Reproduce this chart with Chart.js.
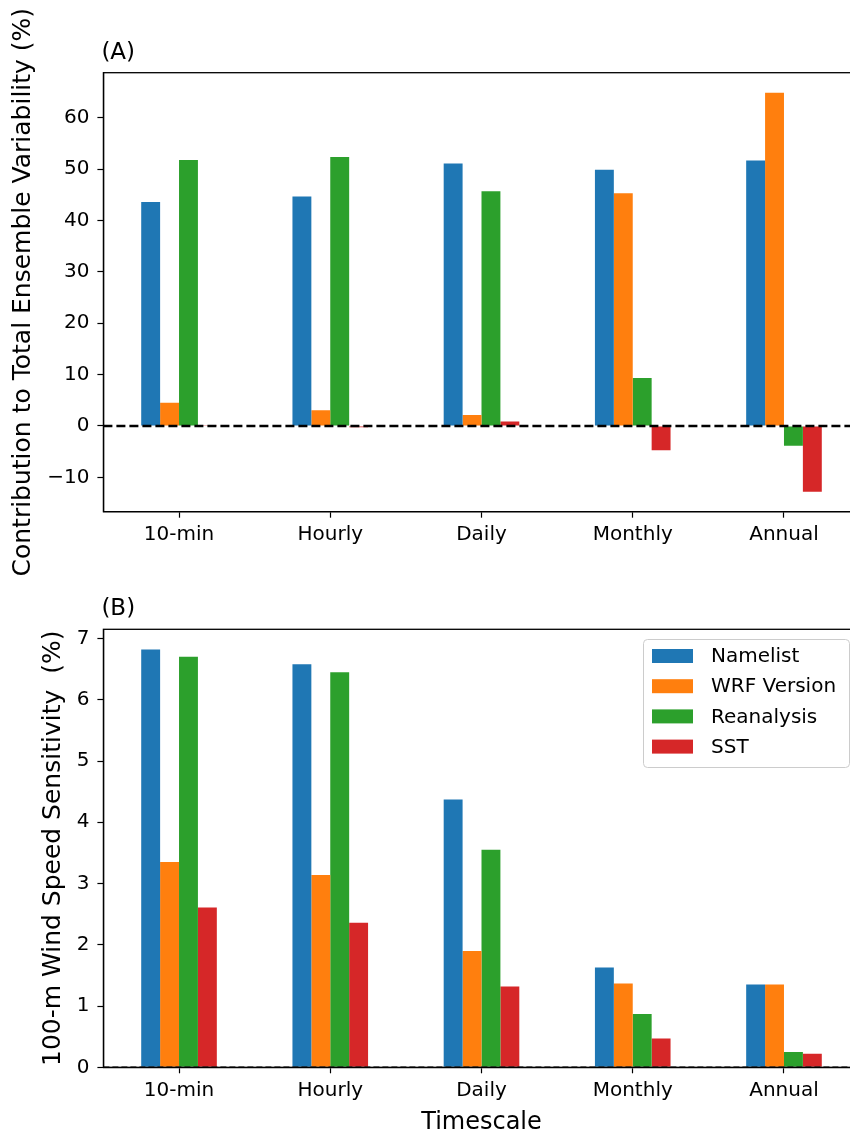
<!DOCTYPE html>
<html lang="en">
<head>
<meta charset="UTF-8">
<title>Ensemble variability and wind speed sensitivity</title>
<script src="https://cdn.jsdelivr.net/npm/chart.js"></script>
<style>
    html, body { margin: 0; padding: 0; background: #fff; overflow: hidden; width: 850px; height: 1132px; }
    canvas { position: absolute; left: 0; }
    #chartA { top: 0; }
    #chartB { top: 566px; }
</style>
</head>
<body>
<canvas id="chartA" width="870" height="590"></canvas>
<canvas id="chartB" width="870" height="566"></canvas>
<script>
const timescales = ['10-min', 'Hourly', 'Daily', 'Monthly', 'Annual'];
const seriesNames = ['Namelist', 'WRF Version', 'Reanalysis', 'SST'];
const seriesColors = ['#1f77b4', '#ff7f0e', '#2ca02c', '#d62728'];

// (A) contribution to total ensemble variability (%)
const contribNamelist = [43.6, 44.7, 51.1, 49.9, 51.7];
const contribWrf = [4.5, 3.05, 2.15, 45.3, 64.9];
const contribReanalysis = [51.8, 52.4, 45.7, 9.35, -3.85];
const contribSst = [0.15, -0.25, 0.85, -4.75, -12.8];
const ticksA = [-10, 0, 10, 20, 30, 40, 50, 60];

// (B) 100-m wind speed sensitivity (%)
const sensNamelist = [6.82, 6.58, 4.37, 1.63, 1.35];
const sensWrf = [3.35, 3.14, 1.90, 1.37, 1.35];
const sensReanalysis = [6.70, 6.45, 3.55, 0.87, 0.25];
const sensSst = [2.61, 2.36, 1.32, 0.47, 0.22];
const ticksB = [0, 1, 2, 3, 4, 5, 6, 7];

Chart.defaults.font.family = '"DejaVu Sans", sans-serif';
Chart.defaults.color = '#000';

function datasets(series) {
    return series.map((vals, i) => ({
        label: seriesNames[i],
        data: vals,
        backgroundColor: seriesColors[i],
        categoryPercentage: 0.5,
        barPercentage: 1.0
    }));
}

// frame, dashed zero line and panel letter
const frameAndZero = {
    id: 'frameAndZero',
    afterDatasetsDraw(chart, args, opts) {
        const ctx = chart.ctx, a = chart.chartArea;
        const y0 = chart.scales.y.getPixelForValue(0);
        ctx.save();
        ctx.strokeStyle = '#000';
        ctx.lineWidth = opts.zeroWidth;
        ctx.setLineDash(opts.dash);
        ctx.beginPath();
        ctx.moveTo(a.left, y0);
        ctx.lineTo(a.right, y0);
        ctx.stroke();
        ctx.setLineDash([]);
        ctx.lineWidth = 1.3;
        ctx.strokeRect(a.left, a.top, a.right - a.left, a.bottom - a.top);
        ctx.fillStyle = '#000';
        ctx.font = '23px "DejaVu Sans"';
        ctx.textBaseline = 'middle';
        ctx.textAlign = 'left';
        ctx.fillText(opts.label, a.left - 2, a.top - 20);
        ctx.restore();
    }
};

// legend drawn inside the plot, upper right
const insideLegend = {
    id: 'insideLegend',
    afterDraw(chart, args, opts) {
        if (!opts.show) return;
        const ctx = chart.ctx;
        ctx.save();
        ctx.fillStyle = 'rgba(255,255,255,0.8)';
        ctx.strokeStyle = '#cccccc';
        ctx.lineWidth = 1;
        ctx.beginPath();
        ctx.roundRect(643.5, 73.5, 206, 128, 4);
        ctx.fill();
        ctx.stroke();
        ctx.font = '20px "DejaVu Sans"';
        ctx.textBaseline = 'middle';
        ctx.textAlign = 'left';
        chart.data.datasets.forEach((ds, i) => {
            const cy = 90 + i * 30.2;
            ctx.fillStyle = ds.backgroundColor;
            ctx.fillRect(652, cy - 7, 41, 14);
            ctx.fillStyle = '#000';
            ctx.fillText(ds.label, 711, cy + 1);
        });
        ctx.restore();
    }
};

function makeChart(id, series, yMin, yMax, yTicks, yTitle, yTitlePad, plotTop, xHeight, showXTitle, panel, zeroWidth, dash, showLegend) {
    return new Chart(document.getElementById(id), {
        type: 'bar',
        data: { labels: timescales, datasets: datasets(series) },
        plugins: [frameAndZero, insideLegend],
        options: {
            responsive: false,
            animation: false,
            layout: { padding: { left: 0, top: plotTop, right: 10.4, bottom: 0 } },
            plugins: {
                legend: { display: false },
                tooltip: { enabled: false },
                frameAndZero: { label: panel, zeroWidth: zeroWidth, dash: dash },
                insideLegend: { show: showLegend }
            },
            scales: {
                x: {
                    afterFit: s => { s.height = xHeight; },
                    grid: { offset: false, drawOnChartArea: false, tickLength: 6, tickColor: '#000', tickWidth: 1.2 },
                    border: { color: '#000', width: 1.3 },
                    ticks: { font: { size: 20 }, padding: 5, maxRotation: 0, autoSkip: false },
                    title: {
                        display: showXTitle, text: 'Timescale',
                        font: { size: 24, lineHeight: 0.8 }, padding: { top: 0, bottom: 0 }
                    }
                },
                y: {
                    min: yMin,
                    max: yMax,
                    afterFit: s => { s.width = 103.4; },
                    afterBuildTicks: s => { s.ticks = yTicks.map(v => ({ value: v })); },
                    grid: { drawOnChartArea: false, tickLength: 6, tickColor: '#000', tickWidth: 1.2 },
                    border: { color: '#000', width: 1.3 },
                    ticks: {
                        font: { size: 20 }, padding: 8,
                        callback: v => String(v).replace('-', '\u2212')
                    },
                    title: {
                        display: true, text: yTitle,
                        font: { size: 25 }, padding: { top: yTitlePad, bottom: 0 }
                    }
                }
            }
        }
    });
}

makeChart('chartA', [contribNamelist, contribWrf, contribReanalysis, contribSst],
    -16.7, 68.8, ticksA, 'Contribution to Total Ensemble Variability (%)', 8.5,
    72.7, 78.3, false, '(A)', 2.6, [9, 4], false);

makeChart('chartB', [sensNamelist, sensWrf, sensReanalysis, sensSst],
    0, 7.15, ticksB, '100-m Wind Speed Sensitivity  (%)', 38.5,
    63.3, 64.7, true, '(B)', 1.5, [6, 3], true);
</script>
</body>
</html>
